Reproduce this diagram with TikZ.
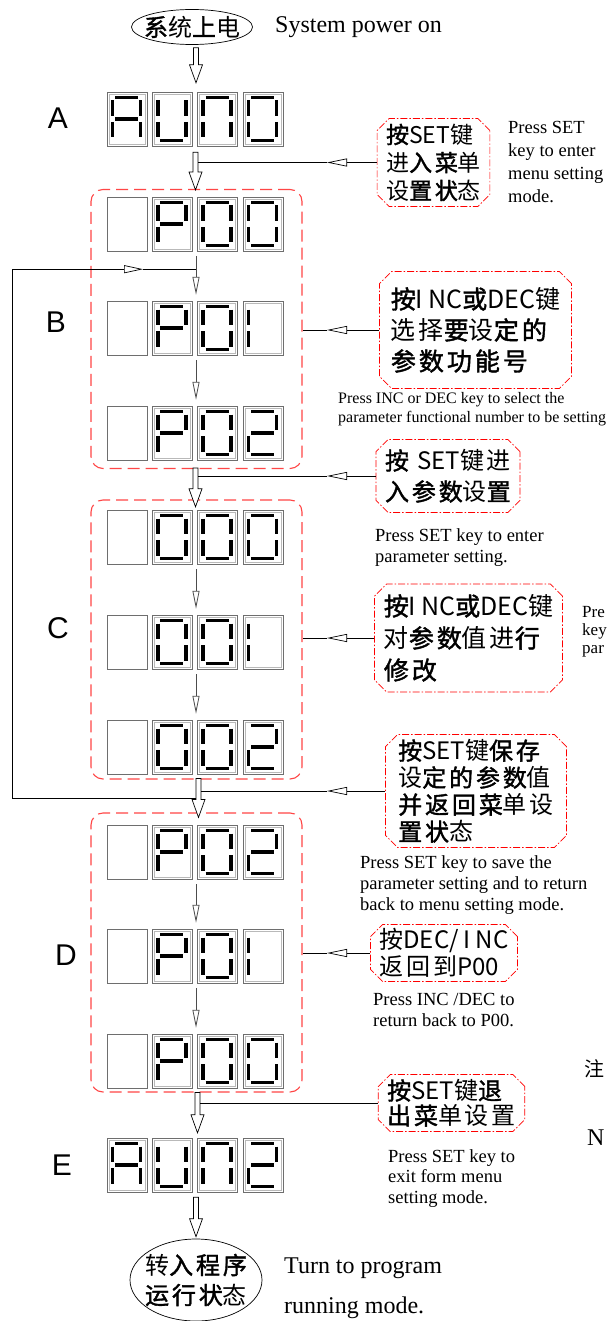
\documentclass[tikz,border=0pt]{standalone}
\usepackage{fontspec}
\setmainfont{Liberation Serif}
\newfontfamily\cjk[LetterSpace=12, BoldFont={Noto Sans CJK SC}, BoldFeatures={FakeBold=1.6}]{Noto Sans CJK SC}
\newfontfamily\cjkl{Noto Sans CJK SC}
\newfontfamily\labfont{Liberation Sans}
\usetikzlibrary{shapes.misc,shapes.geometric,arrows.meta,calc}
\definecolor{framered}{RGB}{255,70,70}
\definecolor{boxgray}{RGB}{110,110,110}
\newcommand\bd[1]{{\bfseries #1}}
\newcommand\la[1]{{\cjkl #1}}
\def\sga{\draw[seg] (8,5.5)--(31,5.5);}
\def\sgb{\draw[seg] (33.5,8.5)--(33.5,24);}
\def\sgc{\draw[seg] (33.5,30)--(33.5,45.5);}
\def\sgd{\draw[seg] (8,48.5)--(31,48.5);}
\def\sge{\draw[seg] (5.5,30)--(5.5,45.5);}
\def\sgf{\draw[seg] (5.5,8.5)--(5.5,24);}
\def\sgg{\draw[seg] (8,27)--(31,27);}
\def\dP{a,b,e,f,g}
\def\dO{a,b,c,d,e,f}
\def\dI{e,f}
\def\dT{a,b,g,e,d}
\def\dA{a,b,c,e,f,g}
\def\dU{b,c,d,e,f}
\def\dN{a,b,c,e,f}
\def\dX{x}
\newcommand\segbox[3]{\begin{scope}[shift={(#1,#2)}]\draw[boxout] (0,0) rectangle (40,54);\draw[boxin] (2,2) rectangle (38,52);\foreach \s in #3 {\csname sg\s\endcsname}\end{scope}}
\newcommand\blankbox[2]{\draw[boxout] (#1,#2) rectangle ++(40,54);}
\newcommand\dbox[3]{\ifx#3\dX\blankbox{#1}{#2}\else\segbox{#1}{#2}{#3}\fi}
\newcommand\disprow[6]{\node[rowbox] (#1) at (195,#2+27) {};\dbox{107}{#2}{#3}\dbox{152.3}{#2}{#4}\dbox{197.6}{#2}{#5}\dbox{243}{#2}{#6}}
\newcommand\barrow[2]{\draw[blockarr] let \p1=(#1), \p2=(#2) in
  (\x1-2.5pt,\y1) -- (\x1-2.5pt,\y2+18pt) -- (\x1-6.5pt,\y2+18pt) -- (\x1,\y2) -- (\x1+6.5pt,\y2+18pt) -- (\x1+2.5pt,\y2+18pt) -- (\x1+2.5pt,\y1) -- cycle;}
\begin{document}
\begin{tikzpicture}[x=1pt,y=-1pt,
 seg/.style={line width=3.6pt, black},
 boxout/.style={draw=boxgray, line width=0.8pt},
 boxin/.style={draw=gray!55, line width=0.6pt},
 rowbox/.style={minimum width=176pt, minimum height=54pt, inner sep=0pt},
 frame/.style={draw=framered, line width=1.1pt, dash pattern=on 12pt off 6pt, rounded corners=12pt, minimum width=211pt, minimum height=279pt, inner sep=0pt},
 callout/.style={chamfered rectangle, chamfered rectangle xsep=9pt, draw=red, line width=0.7pt, dash pattern=on 7pt off 2pt on 1.5pt off 2pt, inner sep=0pt, align=left},
 blockarr/.style={draw=black, fill=white, line width=0.7pt},
 thinarr/.style={draw=gray!60!black, line width=0.8pt, -{Triangle[open,length=18pt,width=7pt]}},
 conn/.style={draw=black, line width=0.7pt},
 leftarr/.style={conn, -{Triangle[open,length=20pt,width=8pt]}},
 eng/.style={anchor=base west, inner sep=0pt, font=\fontsize{18.5}{21}\selectfont},
 big/.style={anchor=base west, inner sep=0pt, font=\fontsize{24}{28}\selectfont},
 small/.style={anchor=base west, inner sep=0pt, font=\fontsize{16}{19}\selectfont},
 lab/.style={font=\labfont\fontsize{30}{30}\selectfont, inner sep=0pt},
 cjkt/.style={font=\cjk\fontsize{24}{28}\selectfont, inner sep=0pt, align=center}
]
\useasboundingbox (0,0) rectangle (606,1321);
\clip (0,0) rectangle (606,1321);
\fill[white] (0,0) rectangle (606,1321);
% helper x positions
\coordinate (tipx) at (327,0);
\coordinate (lpx) at (12,0);
\coordinate (tipL) at (143,0);
% top
\node[ellipse, draw, line width=0.7pt, minimum width=121pt, minimum height=35pt, inner sep=0pt] (e1) at (192,27) {};
\node[cjkt] (e1t) at (e1.center) {\bd{系}统\bd{上}电};
\node[big] (t0) at (275,33) {System power on};
% labels
\node[lab] (LA) at (58,118) {A};
\node[lab] (LB) at (56,322) {B};
\node[lab] (LC) at (58,628) {C};
\node[lab] (LD) at (66,955) {D};
\node[lab] (LE) at (62,1165) {E};
% rows
\disprow{rA}{92}{\dA}{\dU}{\dN}{\dO}
\disprow{rB1}{197}{\dX}{\dP}{\dO}{\dO}
\disprow{rB2}{301}{\dX}{\dP}{\dO}{\dI}
\disprow{rB3}{406}{\dX}{\dP}{\dO}{\dT}
\disprow{rC1}{510}{\dX}{\dO}{\dO}{\dO}
\disprow{rC2}{615}{\dX}{\dO}{\dO}{\dI}
\disprow{rC3}{720}{\dX}{\dO}{\dO}{\dT}
\disprow{rD1}{825}{\dX}{\dP}{\dO}{\dT}
\disprow{rD2}{929}{\dX}{\dP}{\dO}{\dI}
\disprow{rD3}{1034}{\dX}{\dP}{\dO}{\dO}
\disprow{rE}{1138}{\dA}{\dU}{\dN}{\dT}
% frames
\node[frame] (fB) at (196.5,329) {};
\node[frame] (fC) at (196.5,639.5) {};
\node[frame] (fD) at (196.5,952.5) {};
% thin arrows
\draw[thinarr] ($(rB1.south)+(1,5)$) -- ($(rB2.north)+(1,-6)$);
\draw[thinarr] ($(rB2.south)+(1,5)$) -- ($(rB3.north)+(1,-6)$);
\draw[thinarr] ($(rC1.south)+(1,5)$) -- ($(rC2.north)+(1,-6)$);
\draw[thinarr] ($(rC2.south)+(1,5)$) -- ($(rC3.north)+(1,-6)$);
\draw[thinarr] ($(rD1.south)+(1,5)$) -- ($(rD2.north)+(1,-6)$);
\draw[thinarr] ($(rD2.south)+(1,5)$) -- ($(rD3.north)+(1,-6)$);
% block arrows
\coordinate (a1s) at ($(e1.south)+(4,3)$);
\coordinate (a1e) at ($(rA.north)+(1,-9)$);
\coordinate (a2s) at ($(rA.south)+(0.5,6)$);
\coordinate (a2e) at ($(fB.north)+(-1,1)$);
\coordinate (a3s) at ($(fB.south)+(-1,-1)$);
\coordinate (a3e) at ($(rC1.north)+(0.5,-3)$);
\coordinate (a4s) at ($(fC.south)+(2,-1)$);
\coordinate (a4e) at ($(fD.north)+(2,5)$);
\coordinate (a5s) at ($(fD.south)+(1,0)$);
\coordinate (a5e) at ($(rE.north)+(2.5,-5)$);
\coordinate (a6s) at ($(rE.south)+(1,5)$);
% callouts
\node[callout, minimum width=110pt, minimum height=88pt, font=\cjk\fontsize{23}{28}\selectfont] (c1) at (433.5,162.5) {\bd{按}\la{SET}键\\进\bd{入菜}单\\设\bd{置状}态};
\node[callout, minimum width=192pt, minimum height=117pt, font=\cjk\fontsize{25}{31}\selectfont] (c2) at (475.5,330) {\bd{按}\la{I\hspace{5pt}NC}\bd{或}\la{DEC}键\\选择\bd{要}设\bd{定的}\\\bd{参数功能号}};
\node[callout, minimum width=137pt, minimum height=73pt, font=\cjk\fontsize{24}{31}\selectfont] (c3) at (448,476) {\bd{按} \la{SET}键进\\\bd{入参数}设\bd{置}};
\node[callout, minimum width=188pt, minimum height=108pt, font=\cjk\fontsize{25}{32}\selectfont] (c4) at (468.5,638) {\bd{按}\la{I\hspace{5pt}NC}\bd{或}\la{DEC}键\\对\bd{参数}值进\bd{行}\\\bd{修改}};
\node[callout, minimum width=181pt, minimum height=113pt, font=\cjk\fontsize{24}{27}\selectfont] (c5) at (476,791) {\bd{按}\la{SET}键\bd{保存}\\设\bd{定的参数}值\\\bd{并返回菜}单设\\\bd{置状}态};
\node[callout, minimum width=135pt, minimum height=57pt, font=\cjk\fontsize{24}{27}\selectfont] (c6) at (444,953) {按\la{DEC/\hspace{5pt}I\hspace{5pt}NC}\\返回到\la{P00}};
\node[callout, minimum width=140pt, minimum height=57pt, font=\cjk\fontsize{24}{25}\selectfont] (c7) at (451.5,1103) {\bd{按}\la{SET}键\bd{退}\\\bd{出菜}单设置};
% bottom ellipse
\node[ellipse, draw, line width=0.7pt, minimum width=132pt, minimum height=82pt, inner sep=0pt] (e2) at (196,1280) {};
\node[cjkt, font=\cjk\fontsize{24}{30}\selectfont] (e2t) at (e2.center) {转\bd{入程序}\\\bd{运行状}态};
\coordinate (a6e) at ($(e2.north)+(0,-2)$);
\barrow{a1s}{a1e}
\barrow{a2s}{a2e}
\barrow{a3s}{a3e}
\barrow{a4s}{a4e}
\barrow{a5s}{a5e}
\barrow{a6s}{a6e}
% side connectors
\coordinate (s1) at ($(a2s |- c1.west)+(2.5,0)$);
\coordinate (t1) at (c1.west -| tipx);
\draw[leftarr] (c1.west) -- (t1); \draw[conn] (t1) -- (s1);
\coordinate (t2) at (c2.west -| tipx);
\draw[leftarr] (c2.west) -- (t2); \draw[conn] (t2) -- (c2.west -| fB.east);
\coordinate (s3) at ($(a3s |- c3.west)+(2.5,0)$);
\coordinate (t3) at (c3.west -| tipx);
\draw[leftarr] (c3.west) -- (t3); \draw[conn] (t3) -- (s3);
\coordinate (t4) at (c4.west -| tipx);
\draw[leftarr] (c4.west) -- (t4); \draw[conn] (t4) -- (c4.west -| fC.east);
\coordinate (s5) at ($(a4s |- c5.west)+(2.5,0)$);
\coordinate (t5) at (c5.west -| tipx);
\draw[leftarr] (c5.west) -- (t5); \draw[conn] (t5) -- (s5);
\coordinate (t6) at (c6.west -| tipx);
\draw[leftarr] (c6.west) -- (t6); \draw[conn] (t6) -- (c6.west -| fD.east);
\coordinate (s7) at ($(a5s |- c7.west)+(2.5,0)$);
\draw[conn] (c7.west) -- (s7);
% loop
\coordinate (lpS) at ($(a4s)+(-2.5,20)$);
\coordinate (lpE) at ($(rB1.south)+(1,18)$);
\coordinate (lpT) at (lpE -| tipL);
\draw[conn, -{Triangle[open,length=19pt,width=8pt]}] (lpS) -- (lpS -| lpx) -- (lpE -| lpx) -- (lpT);
\draw[conn] (lpT) -- (lpE);
% english texts
\node[eng] (p1a) at (508,134) {Press SET};
\node[eng] (p1b) at (508,157) {key to enter};
\node[eng] (p1c) at (508,180) {menu setting};
\node[eng] (p1d) at (508,203) {mode.};
\node[small] (p2a) at (338,403) {Press INC or DEC key to select the};
\node[small] (p2b) at (338,422) {parameter functional number to be setting};
\node[eng] (p3a) at (375,541) {Press SET key to enter};
\node[eng] (p3b) at (375,562) {parameter setting.};
\node[eng, font=\fontsize{17}{19}\selectfont] (p4a) at (582,617) {Pre};
\node[eng, font=\fontsize{17}{19}\selectfont] (p4b) at (582,635) {key};
\node[eng, font=\fontsize{17}{19}\selectfont] (p4c) at (582,653) {par};
\node[eng] (p5a) at (360,868) {Press SET key to save the};
\node[eng] (p5b) at (360,889) {parameter setting and to return};
\node[eng] (p5c) at (360,910) {back to menu setting mode.};
\node[eng] (p6a) at (373,1005) {Press INC /DEC to};
\node[eng] (p6b) at (373,1026) {return back to P00.};
\node[eng] (p7a) at (388,1162) {Press SET key to};
\node[eng] (p7b) at (388,1182) {exit form menu};
\node[eng] (p7c) at (388,1203) {setting mode.};
\node[big] (p8a) at (284,1273) {Turn to program};
\node[big] (p8b) at (284,1313) {running mode.};
\node[anchor=west, inner sep=0pt, font=\cjk\fontsize{20}{20}\selectfont] (note1) at (584,1069) {注};
\node[big] (note2) at (587,1145) {N};
\end{tikzpicture}
\end{document}
